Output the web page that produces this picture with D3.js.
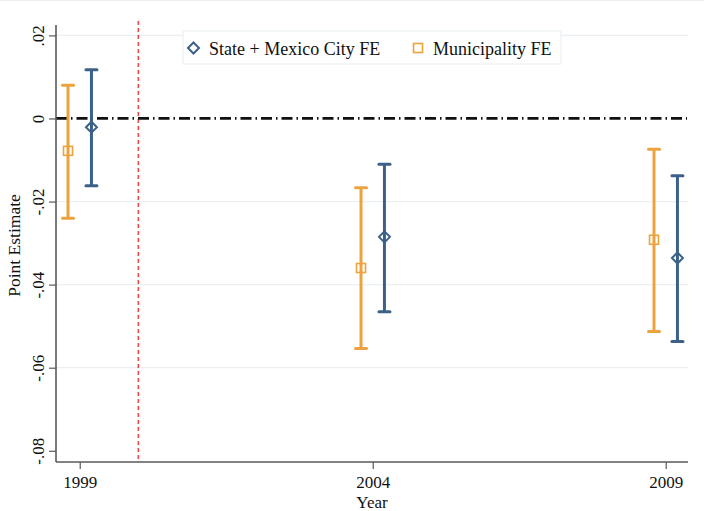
<!DOCTYPE html>
<html>
<head>
<meta charset="utf-8">
<script src="https://cdn.jsdelivr.net/npm/d3@7"></script>
<style>
  body { margin: 0; background: #fff; }
  svg text { font-family: "Liberation Serif", "Times New Roman", serif; fill: #111; }
</style>
</head>
<body>
<div id="chart"></div>
<script>
const years = [1999, 2004, 2009];
const stateEst = [-0.0021, -0.0285, -0.0336];
const stateLo = [-0.0162, -0.0465, -0.0537];
const stateHi = [0.0117, -0.0110, -0.0138];
const muniEst = [-0.0078, -0.0360, -0.0292];
const muniLo = [-0.0240, -0.0554, -0.0513];
const muniHi = [0.0080, -0.0167, -0.0074];
const yTicks = [0.02, 0, -0.02, -0.04, -0.06, -0.08];
const yTickLabels = ['.02', '0', '-.02', '-.04', '-.06', '-.08'];
const gridTicks = [0.02, -0.02, -0.04, -0.06];
const refYear = 2000;
const seriesNames = ['State + Mexico City FE', 'Municipality FE'];

const width = 704;
const height = 511;
const blue = '#3b6189';
const orange = '#eda23e';
const axisColor = '#5a5a5a';
const gridColor = '#e9eff2';
const fontSize = '17px';
const offset = 0.2;

const plot = {left: 56, right: 688, top: 25, bottom: 462};

const xScale = d3.scaleLinear()
  .domain([1998.595, 2009.38])
  .range([plot.left, plot.right]);

const yScale = d3.scaleLinear()
  .domain([0.0225, -0.0827])
  .range([plot.top, plot.bottom]);

const svg = d3.select('#chart')
  .append('svg')
  .attr('width', width)
  .attr('height', height);

// faint frame line at the top of the image
svg.append('line')
  .attr('x1', 0).attr('x2', width)
  .attr('y1', 0.5).attr('y2', 0.5)
  .attr('stroke', '#eeeeee');

// grid
svg.append('g')
  .attr('class', 'grid')
  .selectAll('line')
  .data(gridTicks)
  .join('line')
  .attr('x1', plot.left)
  .attr('x2', plot.right)
  .attr('y1', d => yScale(d))
  .attr('y2', d => yScale(d))
  .attr('stroke', gridColor)
  .attr('stroke-width', 1.2);

// reference lines
svg.append('line')
  .attr('x1', xScale(refYear)).attr('x2', xScale(refYear))
  .attr('y1', plot.top - 4).attr('y2', plot.bottom)
  .attr('stroke', '#f04848')
  .attr('stroke-width', 1.6)
  .attr('stroke-dasharray', '4, 3');

svg.append('line')
  .attr('x1', plot.left).attr('x2', plot.right - 1)
  .attr('y1', yScale(0)).attr('y2', yScale(0))
  .attr('stroke', '#111')
  .attr('stroke-width', 2.8)
  .attr('stroke-dasharray', '11, 4, 1.5, 4');

function renderSeries({est, lo, hi, shift, color, marker}) {
  const g = svg.append('g');
  years.forEach((year, i) => {
    const x = xScale(year + shift);
    g.append('line')
      .attr('x1', x).attr('x2', x)
      .attr('y1', yScale(hi[i])).attr('y2', yScale(lo[i]))
      .attr('stroke', color)
      .attr('stroke-width', 3);
    [hi[i], lo[i]].forEach(v => {
      g.append('line')
        .attr('x1', x - 5.5).attr('x2', x + 5.5)
        .attr('y1', yScale(v)).attr('y2', yScale(v))
        .attr('stroke', color)
        .attr('stroke-width', 3)
        .attr('stroke-linecap', 'round');
    });
    drawMarker(g, marker, x, yScale(est[i]), color);
  });
}

function drawMarker(g, marker, x, y, color) {
  if (marker === 'diamond') {
    g.append('path')
      .attr('d', `M${x - 5.5},${y} L${x},${y - 5.5} L${x + 5.5},${y} L${x},${y + 5.5} Z`)
      .attr('fill', 'none')
      .attr('stroke', color)
      .attr('stroke-width', 2);
  } else {
    g.append('rect')
      .attr('x', x - 4.5).attr('y', y - 4.5)
      .attr('width', 9).attr('height', 9)
      .attr('fill', 'none')
      .attr('stroke', color)
      .attr('stroke-width', 1.6);
  }
}

renderSeries({est: muniEst, lo: muniLo, hi: muniHi, shift: -offset, color: orange, marker: 'square'});
renderSeries({est: stateEst, lo: stateLo, hi: stateHi, shift: offset, color: blue, marker: 'diamond'});

// axes
const yAxis = svg.append('g')
  .attr('transform', `translate(${plot.left}, 0)`)
  .call(d3.axisLeft(yScale)
    .tickValues(yTicks)
    .tickSize(7)
    .tickPadding(0)
    .tickFormat((d, i) => yTickLabels[i]));
yAxis.select('.domain')
  .attr('d', `M0,${plot.top}V${plot.bottom}`)
  .attr('stroke', axisColor)
  .attr('stroke-width', 1.6);
yAxis.selectAll('.tick line').attr('stroke', axisColor).attr('stroke-width', 1.2);
yAxis.selectAll('.tick text')
  .attr('x', null).attr('dy', null)
  .attr('text-anchor', 'middle')
  .attr('transform', 'translate(-12, 0) rotate(-90)')
  .style('font-size', fontSize)
  .style('font-family', '"Liberation Serif", serif')
  .attr('fill', '#111');

const xAxis = svg.append('g')
  .attr('transform', `translate(0, ${plot.bottom})`)
  .call(d3.axisBottom(xScale)
    .tickValues(years)
    .tickSize(7)
    .tickPadding(7)
    .tickFormat(d3.format('d')));
xAxis.select('.domain')
  .attr('d', `M${plot.left},0H${plot.right}`)
  .attr('stroke', axisColor)
  .attr('stroke-width', 1.6);
xAxis.selectAll('.tick line').attr('stroke', axisColor).attr('stroke-width', 1.2);
xAxis.selectAll('.tick text')
  .style('font-size', fontSize)
  .style('font-family', '"Liberation Serif", serif')
  .attr('fill', '#111');

// axis titles
svg.append('text')
  .attr('x', (plot.left + plot.right) / 2)
  .attr('y', 508)
  .attr('text-anchor', 'middle')
  .style('font-size', fontSize)
  .text('Year');

svg.append('text')
  .attr('transform', `translate(20, ${(plot.top + plot.bottom) / 2 + 2}) rotate(-90)`)
  .attr('text-anchor', 'middle')
  .style('font-size', '17.5px')
  .text('Point Estimate');

// legend
const legend = svg.append('g').attr('class', 'legend');
legend.append('rect')
  .attr('x', 183).attr('y', 31)
  .attr('width', 378).attr('height', 33)
  .attr('fill', '#fff')
  .attr('stroke', '#e6eef0')
  .attr('stroke-width', 1);

const legendItems = [
  {name: seriesNames[0], color: blue, marker: 'diamond', mx: 193.5, tx: 209},
  {name: seriesNames[1], color: orange, marker: 'square', mx: 418, tx: 433}
];
legendItems.forEach(item => {
  drawMarker(legend, item.marker, item.mx, 48, item.color);
  legend.append('text')
    .attr('x', item.tx)
    .attr('y', 54.5)
    .style('font-size', '18px')
    .text(item.name);
});
</script>
</body>
</html>
